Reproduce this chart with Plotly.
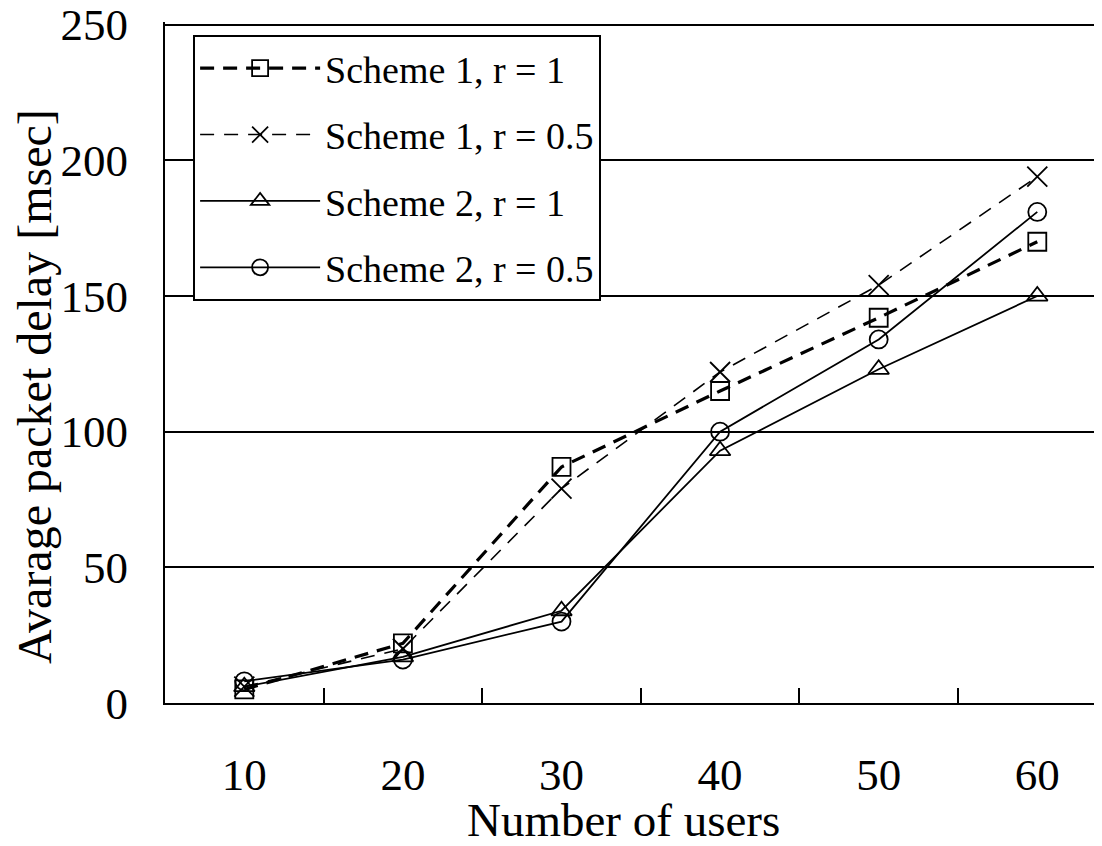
import plotly.graph_objects as go

users = [10, 20, 30, 40, 50, 60]
s1_r1 = [5, 22, 87, 115, 142, 170]
s1_r05 = [6, 20, 79, 122, 154, 194]
s2_r1 = [6, 17, 34, 93, 123, 150]
s2_r05 = [8, 16, 30, 100, 134, 181]
y_ticks = [0, 50, 100, 150, 200, 250]
between_ticks = [15, 25, 35, 45, 55]

FONT = "Liberation Serif, Times New Roman, serif"

series = [
    ("Scheme 1, r = 1", s1_r1, "square-open", dict(width=3.2, dash="14px,9px"), 18),
    ("Scheme 1, r = 0.5", s1_r05, "x-thin-open", dict(width=1.6, dash="14px,10px"), 20),
    ("Scheme 2, r = 1", s2_r1, "triangle-up-open", dict(width=1.8), 18),
    ("Scheme 2, r = 0.5", s2_r05, "circle-open", dict(width=1.8), 18),
]

fig = go.Figure()
for i, (name, ys, sym, ln, ms) in enumerate(series):
    fig.add_trace(go.Scatter(
        x=users, y=ys, name=name, mode="lines+markers",
        line=dict(color="black", **ln),
        marker=dict(symbol=sym, size=ms, color="black",
                    line=dict(color="black", width=1.8)),
        legendgroup=f"g{i}",
    ))

# page body has an 8px margin, so the figure is shifted by 8px
fig.update_layout(
    width=1094, height=838,
    margin=dict(l=157, r=0, t=14, b=143, autoexpand=False),
    paper_bgcolor="white", plot_bgcolor="white",
    font=dict(family=FONT, color="black"),
    showlegend=True,
    legend=dict(
        x=0.030, y=0.981, xanchor="left", yanchor="top",
        bgcolor="white", bordercolor="black", borderwidth=2,
        font=dict(family=FONT, size=38, color="black"),
        tracegroupgap=14, itemwidth=120,
    ),
    annotations=[
        dict(text="Number of users", xref="paper", yref="paper",
             x=0.4888, y=-0.1718, xanchor="center", yanchor="middle",
             showarrow=False, font=dict(family=FONT, size=47, color="black")),
        dict(text="Avarage packet delay [msec]", xref="paper", yref="paper",
             x=-0.1398, y=0.464, xanchor="center", yanchor="middle",
             textangle=-90, showarrow=False,
             font=dict(family=FONT, size=48, color="black")),
    ],
)

fig.update_xaxes(
    range=[5, 64.08], automargin=False,
    tickmode="array", tickvals=users, ticktext=[str(u) for u in users],
    ticks="", showgrid=False, zeroline=False,
    showline=True, linecolor="black", linewidth=2,
    tickfont=dict(family=FONT, size=45, color="black"),
    ticklabelstandoff=31,
    minor=dict(tickmode="array", tickvals=between_ticks, ticks="inside",
               ticklen=15, tickwidth=1.8, tickcolor="black", showgrid=False),
)

fig.update_yaxes(
    range=[0, 251], automargin=False,
    tickmode="array", tickvals=y_ticks,
    ticks="", showgrid=True, gridcolor="black", gridwidth=1.5,
    zeroline=False,
    showline=True, linecolor="black", linewidth=2,
    tickfont=dict(family=FONT, size=45, color="black"),
    ticklabelstandoff=26, ticklabeloverflow="allow",
)

fig.write_html("out.html")
